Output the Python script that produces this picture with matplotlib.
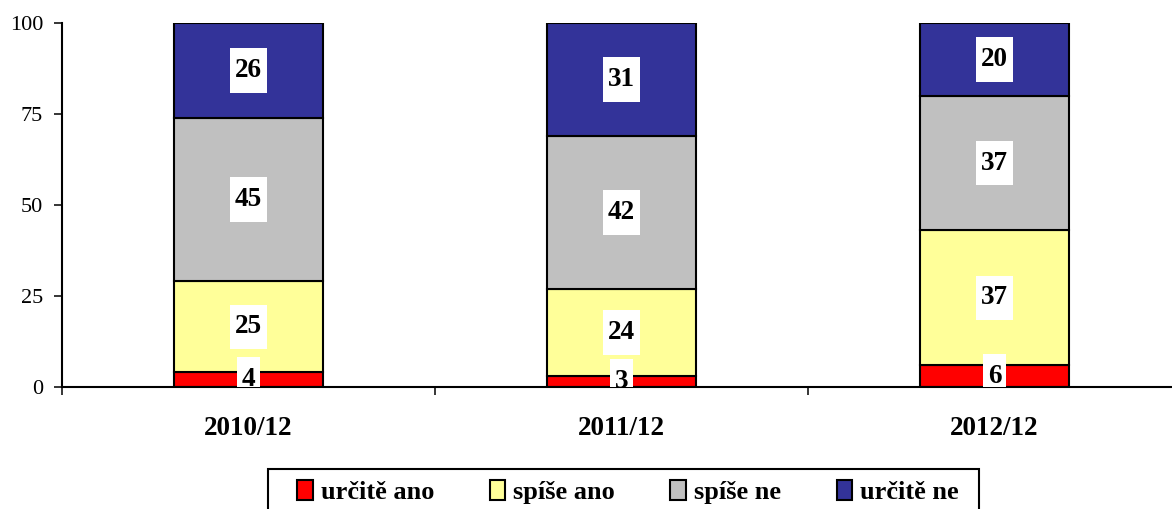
import matplotlib.pyplot as plt
import numpy as np
from matplotlib.patches import Patch, Rectangle
from matplotlib.path import Path

categories = ["2010/12", "2011/12", "2012/12"]
series_names = ["určitě ano", "spíše ano", "spíše ne", "určitě ne"]
urcite_ano = [4, 3, 6]
spise_ano = [25, 24, 37]
spise_ne = [45, 42, 37]
urcite_ne = [26, 31, 20]
colours = ["#ff0000", "#ffff99", "#c0c0c0", "#333399"]


def label_box(x0, y0, width, height, mutation_size):
    # white box, taller than it is wide like the Excel labels
    px = 0.18 * mutation_size
    py = 0.36 * mutation_size
    x0, y0 = x0 - px, y0 - py
    x1, y1 = x0 + width + 2 * px, y0 + height + 2 * py
    return Path(
        [(x0, y0), (x1, y0), (x1, y1), (x0, y1), (x0, y0)],
        closed=True,
    )


plt.rcParams["font.family"] = ["Liberation Serif", "DejaVu Serif"]

W, H = 1172, 509
fig = plt.figure(figsize=(W / 100, H / 100), dpi=100)
ax = fig.add_axes([62 / W, 122 / H, (1181 - 62) / W, 364 / H])

x = np.arange(len(categories))
values = [urcite_ano, spise_ano, spise_ne, urcite_ne]
bottom = np.zeros(len(categories))
for name, vals, colour in zip(series_names, values, colours):
    vals = np.array(vals, dtype=float)
    ax.bar(x, vals, 0.4, bottom=bottom, color=colour, edgecolor="black",
           linewidth=1.5, label=name, zorder=2)
    for xi, b, v in zip(x, bottom, vals):
        ax.text(xi, b + v / 2, f"{int(v)}", ha="center", va="center",
                fontsize=19.5, fontweight="bold", zorder=3, clip_on=True,
                bbox=dict(boxstyle=label_box, facecolor="white",
                          edgecolor="none"))
    bottom += vals

ax.set_xlim(-0.5, 2.5)
ax.set_ylim(0, 100)
ax.set_yticks([0, 25, 50, 75, 100])
ax.tick_params(axis="y", direction="out", length=5.5, width=1.1,
               labelsize=16, pad=8)
ax.set_xticks([-0.5, 0.5, 1.5, 2.5])
ax.set_xticklabels([])
ax.tick_params(axis="x", which="major", direction="out", length=6, width=1.1)
ax.set_xticks(x, minor=True)
ax.set_xticklabels(categories, minor=True, fontsize=19.5, fontweight="bold")
ax.tick_params(axis="x", which="minor", length=0, pad=21)

for side in ["top", "right"]:
    ax.spines[side].set_visible(False)
for side in ["left", "bottom"]:
    ax.spines[side].set_linewidth(1.5)

handles = [Patch(facecolor=c, edgecolor="black", linewidth=1.5) for c in colours]
leg = fig.legend(handles, series_names, loc="upper left",
                 bbox_to_anchor=(297 / W, 1 - 480 / H), ncol=4,
                 frameon=False, borderpad=0, borderaxespad=0,
                 handlelength=0.6, handleheight=0.8, handletextpad=0.3,
                 columnspacing=2.1,
                 prop=dict(family="Liberation Serif", weight="bold", size=19))

# legend frame runs off the bottom of the picture, as in the original
fig.patches.append(Rectangle((268 / W, -0.1), (979 - 268) / W,
                             0.1 + 1 - 469 / H, transform=fig.transFigure,
                             fill=False, edgecolor="black", linewidth=1.5))

fig.savefig("out.png", dpi=100)
